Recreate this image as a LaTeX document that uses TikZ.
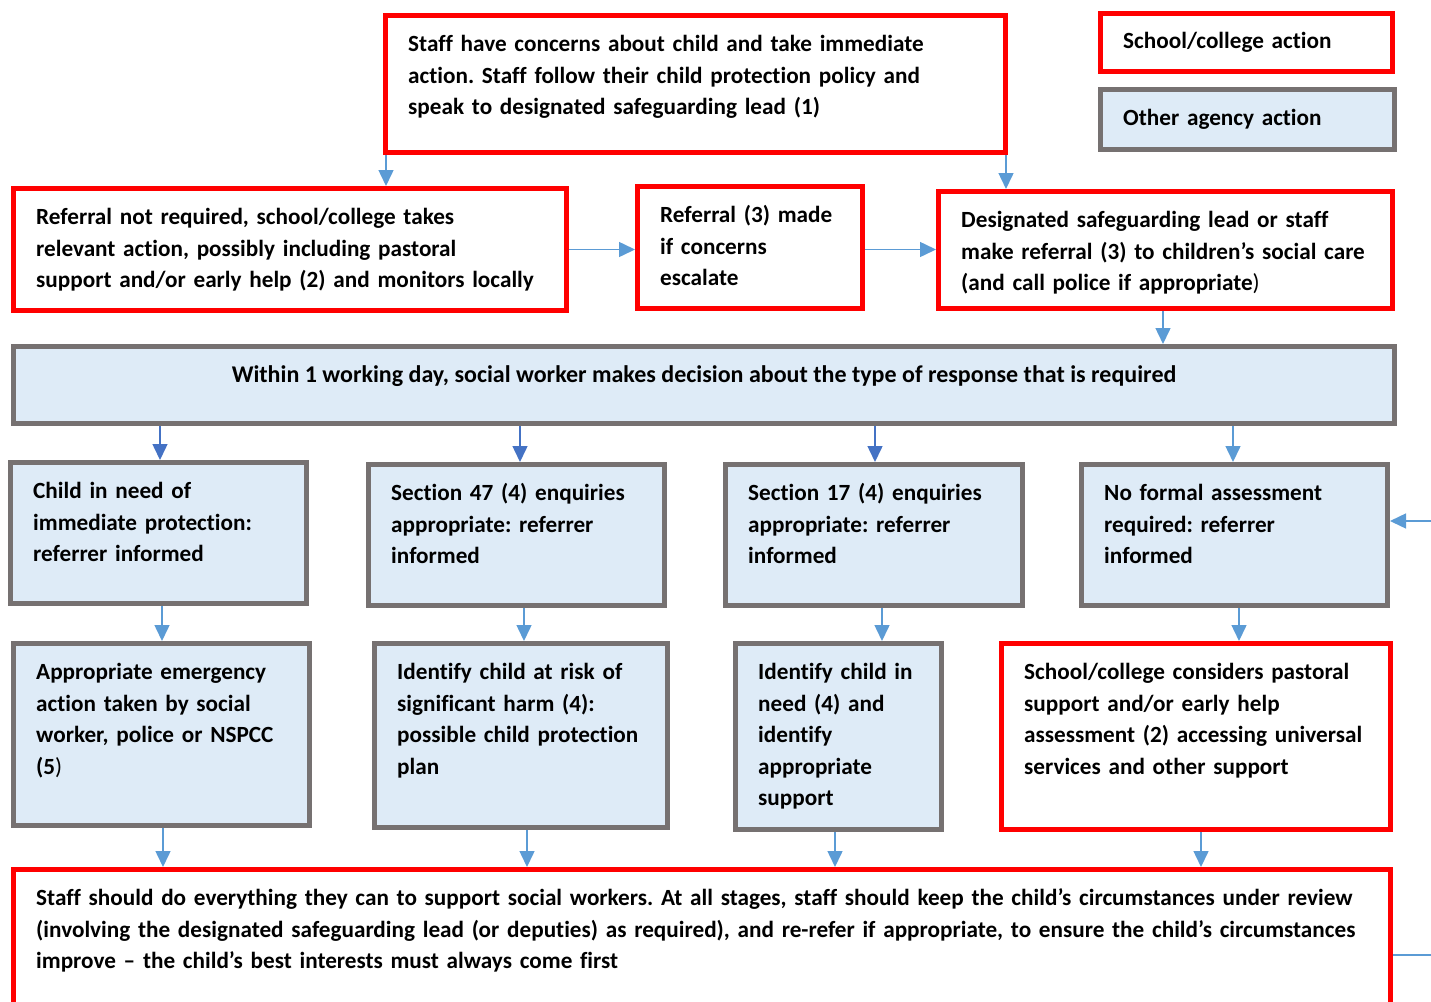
\documentclass[tikz,border=0pt]{standalone}
\usepackage{fontspec}
\setmainfont{Carlito}[Ligatures=NoCommon]
\frenchspacing
\usetikzlibrary{arrows.meta}
\definecolor{boxred}{HTML}{FF0000}
\definecolor{boxgrey}{HTML}{767171}
\definecolor{boxfill}{HTML}{DEEBF7}
\definecolor{arrlight}{HTML}{5B9BD5}
\definecolor{arrdark}{HTML}{4472C4}
\begin{document}
\begin{tikzpicture}[x=1pt,y=-1pt,
  school/.style={draw=boxred,line width=5pt,fill=white,anchor=north west,inner sep=0pt},
  agency/.style={draw=boxgrey,line width=5pt,fill=boxfill,anchor=north west,inner sep=0pt},
  txt/.style={anchor=base west,inner sep=0pt,text width=1380pt,align=left,font=\fontsize{23.2}{31.5}\selectfont\bfseries},
  arr/.style={draw=arrlight,line width=1.5pt,-{Triangle[width=15pt,length=16pt]}},
  darr/.style={arr,draw=arrdark}]
\useasboundingbox (0,0) rectangle (1431,1001);
\clip (0,0) rectangle (1431,1001);
\node[school,minimum width=620pt,minimum height=137pt] (top) at (383,13) {};
\node[school,minimum width=292pt,minimum height=58pt] (leg1) at (1098,11) {};
\node[agency,minimum width=294pt,minimum height=60pt] (leg2) at (1098,87) {};
\node[school,minimum width=553pt,minimum height=122pt] (a) at (11,186) {};
\node[school,minimum width=225pt,minimum height=122pt] (b) at (635,184) {};
\node[school,minimum width=454pt,minimum height=117pt] (c) at (936,189) {};
\node[agency,minimum width=1381pt,minimum height=77pt] (dec) at (11,344) {};
\node[agency,minimum width=296pt,minimum height=141pt] (d1) at (8,460) {};
\node[agency,minimum width=296pt,minimum height=141pt] (d2) at (366,462) {};
\node[agency,minimum width=297pt,minimum height=141pt] (d3) at (723,462) {};
\node[agency,minimum width=306pt,minimum height=141pt] (d4) at (1079,462) {};
\node[agency,minimum width=296pt,minimum height=182pt] (e1) at (11,641) {};
\node[agency,minimum width=293pt,minimum height=184pt] (e2) at (372,641) {};
\node[agency,minimum width=206pt,minimum height=186pt] (e3) at (733,641) {};
\node[school,minimum width=389pt,minimum height=186pt] (e4) at (999,641) {};
\node[school,minimum width=1377pt,minimum height=160pt] (bot) at (11,867) {};

\node[txt] (top-t) at ([shift={(25pt,-38.5pt)}]top.north west) {Staff have concerns about child and take immediate\\action. Staff follow their child protection policy and\\speak to designated safeguarding lead (1)};
\node[txt] (leg1-t) at ([shift={(25pt,-5.5pt)}]leg1.west) {School/college action};
\node[txt] (leg2-t) at ([shift={(25pt,-5.5pt)}]leg2.west) {Other agency action};
\node[txt] (a-t) at ([shift={(25pt,-38.5pt)}]a.north west) {Referral not required, school/college takes\\relevant action, possibly including pastoral\\support and/or early help (2) and monitors locally};
\node[txt] (b-t) at ([shift={(25pt,-38.5pt)}]b.north west) {Referral (3) made\\if concerns\\escalate};
\node[txt] (c-t) at ([shift={(25pt,-38.5pt)}]c.north west) {Designated safeguarding lead or staff\\make referral (3) to children’s social care\\(and call police if appropriate{\mdseries )}};
\node[txt,anchor=base,text width=,font=\fontsize{24}{31.5}\selectfont\bfseries] (dec-t) at ([yshift=3pt]dec.center) {Within 1 working day, social worker makes decision about the type of response that is required};
\node[txt] (d1-t) at ([shift={(25pt,-38.5pt)}]d1.north west) {Child in need of\\immediate protection:\\referrer informed};
\node[txt] (d2-t) at ([shift={(25pt,-38.5pt)}]d2.north west) {Section 47 (4) enquiries\\appropriate: referrer\\informed};
\node[txt] (d3-t) at ([shift={(25pt,-38.5pt)}]d3.north west) {Section 17 (4) enquiries\\appropriate: referrer\\informed};
\node[txt] (d4-t) at ([shift={(25pt,-38.5pt)}]d4.north west) {No formal assessment\\required: referrer\\informed};
\node[txt] (e1-t) at ([shift={(25pt,-38.5pt)}]e1.north west) {Appropriate emergency\\action taken by social\\worker, police or NSPCC\\(5{\mdseries )}};
\node[txt] (e2-t) at ([shift={(25pt,-38.5pt)}]e2.north west) {Identify child at risk of\\significant harm (4):\\possible child protection\\plan};
\node[txt] (e3-t) at ([shift={(25pt,-38.5pt)}]e3.north west) {Identify child in\\need (4) and\\identify\\appropriate\\support};
\node[txt] (e4-t) at ([shift={(25pt,-38.5pt)}]e4.north west) {School/college considers pastoral\\support and/or early help\\assessment (2) accessing universal\\services and other support};
\node[txt] (bot-t) at ([shift={(25pt,-38.5pt)}]bot.north west) {Staff should do everything they can to support social workers. At all stages, staff should keep the child’s circumstances under review\\(involving the designated safeguarding lead (or deputies) as required), and re-refer if appropriate, to ensure the child’s circumstances\\improve – the child’s best interests must always come first};

\coordinate (t1) at ([xshift=3pt]top.south west);
\draw[arr] (t1) -- (t1 |- a.north);
\coordinate (t2) at ([xshift=-2pt]top.south east);
\draw[arr] (t2) -- (t2 |- c.north);
\draw[arr] (a.east) -- (a.east -| b.west);
\draw[arr] (a.east -| b.east) -- (a.east -| c.west);
\coordinate (c1) at ([xshift=227pt]c.south west);
\draw[arr] (c1) -- (c1 |- dec.north);
\foreach \n/\s in {d1/149,d2/509,d3/864}{
  \coordinate (p) at ([xshift=\s pt]dec.south west);
  \draw[darr] (p) -- (p |- \n.north);
}
\coordinate (p4) at ([xshift=1222pt]dec.south west);
\draw[arr] (p4) -- (p4 |- d4.north);
\foreach \n/\m/\s in {d1/e1/154,d2/e2/158,d3/e3/159,d4/e4/160}{
  \coordinate (q) at ([xshift=\s pt]\n.south west);
  \draw[arr] (q) -- (q |- \m.north);
}
\foreach \n/\s in {e1/152,e2/155,e3/102,e4/202}{
  \coordinate (r) at ([xshift=\s pt]\n.south west);
  \draw[arr] (r) -- (r |- bot.north);
}
\coordinate (rin) at (1431,521);
\draw[arr] (rin) -- (rin -| d4.east);
\coordinate (rout) at (1431,955);
\draw[draw=arrlight,line width=1.5pt] (rout -| bot.east) -- (rout);
\end{tikzpicture}
\end{document}
